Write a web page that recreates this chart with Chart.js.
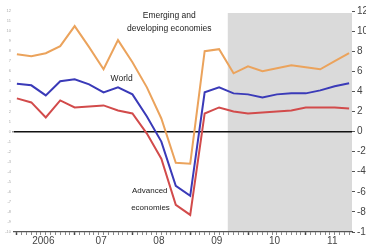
<!DOCTYPE html>
<html>
<head>
<meta charset="utf-8">
<script src="https://cdn.jsdelivr.net/npm/chart.js@4/dist/chart.umd.min.js"></script>
<style>
  html, body { margin: 0; padding: 0; background: #fff; }
  #wrap { width: 366px; height: 248px; }
</style>
</head>
<body>
<div id="wrap"><canvas id="chart"></canvas></div>
<script>
// quarterly, 2006Q1 .. 2011Q4 (x = quarter index)
const quarters = [
  "2006Q1","2006Q2","2006Q3","2006Q4","2007Q1","2007Q2","2007Q3","2007Q4",
  "2008Q1","2008Q2","2008Q3","2008Q4","2009Q1","2009Q2","2009Q3","2009Q4",
  "2010Q1","2010Q2","2010Q3","2010Q4","2011Q1","2011Q2","2011Q3","2011Q4"
];
const emerging = [7.7, 7.5, 7.8, 8.5, 10.5, 8.4, 6.2, 9.1, 6.9, 4.4, 1.3, -3.1, -3.2, 8.0, 8.2, 5.8, 6.5, 6.0, 6.3, 6.6, 6.4, 6.2, 7.0, 7.8];
const world    = [4.75, 4.6, 3.6, 5.0, 5.2, 4.7, 3.9, 4.4, 3.7, 1.5, -1.0, -5.4, -6.4, 3.9, 4.4, 3.8, 3.7, 3.4, 3.7, 3.8, 3.8, 4.1, 4.5, 4.8];
const advanced = [3.3, 2.9, 1.4, 3.1, 2.4, 2.5, 2.6, 2.1, 1.8, -0.2, -2.7, -7.3, -8.3, 1.8, 2.4, 2.0, 1.8, 1.9, 2.0, 2.1, 2.4, 2.4, 2.4, 2.3];
const yearLabels = ["2006", "07", "08", "09", "10", "11"];
const forecastStart = 14.6; // shaded projection period starts here (quarter index)

const FONT = "'Liberation Sans Narrow', 'Liberation Sans', Arial, sans-serif";

function pts(arr) { return arr.map((v, i) => ({ x: i, y: v })); }

// background shading for projections
const shadePlugin = {
  id: "shade",
  beforeDraw(c) {
    const { ctx, chartArea, scales } = c;
    const x0 = scales.x.getPixelForValue(forecastStart);
    ctx.save();
    ctx.fillStyle = "#dadada";
    ctx.fillRect(x0, chartArea.top + 2, chartArea.right - x0, chartArea.bottom - chartArea.top - 2);
    ctx.restore();
  }
};

// series labels
const notes = [
  { text: "Emerging and", x: 10.55, y: 11.5, size: 8.5 },
  { text: "developing economies", x: 10.55, y: 10.2, size: 8.5 },
  { text: "World", x: 7.25, y: 5.25, size: 8.5 },
  { text: "Advanced", x: 9.2, y: -5.9, size: 8 },
  { text: "economies", x: 9.25, y: -7.6, size: 8 }
];
const notePlugin = {
  id: "notes",
  afterDatasetsDraw(c) {
    const { ctx, scales } = c;
    ctx.save();
    ctx.fillStyle = "#222";
    ctx.textAlign = "center";
    ctx.textBaseline = "middle";
    notes.forEach(n => {
      ctx.font = n.size + "px " + FONT;
      ctx.fillText(n.text, scales.x.getPixelForValue(n.x), scales.y.getPixelForValue(n.y));
    });
    ctx.restore();
  }
};

const ctx = document.getElementById("chart");
new Chart(ctx, {
  type: "line",
  data: {
    labels: quarters,
    datasets: [
      { label: "Emerging and developing economies", data: pts(emerging), borderColor: "#eba35c", borderWidth: 2 },
      { label: "World", data: pts(world), borderColor: "#3a3ab8", borderWidth: 2 },
      { label: "Advanced economies", data: pts(advanced), borderColor: "#d24b4b", borderWidth: 2 }
    ]
  },
  options: {
    responsive: true,
    maintainAspectRatio: false,
    animation: false,
    layout: { padding: { top: 11, left: 0, right: 0, bottom: 0 } },
    elements: { point: { radius: 0 }, line: { tension: 0 } },
    plugins: { legend: { display: false }, tooltip: { enabled: false } },
    scales: {
      x: {
        type: "linear",
        min: -0.2,
        max: 23.2,
        afterBuildTicks(scale) {
          const t = [];
          for (let m = 0; m <= 139; m++) t.push({ value: m / 6 });
          scale.ticks = t;
        },
        afterFit(scale) { scale.height = 16; },
        border: { display: true, color: "#555", width: 1.2 },
        grid: {
          drawOnChartArea: false,
          tickLength: 3,
          tickColor: c => (c.index % 2 === 1 ? "rgba(0,0,0,0)" : (c.index % 24 === 0 ? "#444" : "#888")),
          tickWidth: c => (c.index % 24 === 0 ? 1.5 : 1)
        },
        ticks: {
          autoSkip: false,
          maxRotation: 0,
          padding: 0,
          color: "#444",
          font: { family: FONT, size: 10 },
          callback: (v, i) => (i % 24 === 11 ? yearLabels[(i - 11) / 24] : "")
        }
      },
      y: {
        position: "left",
        min: -10,
        max: 12,
        afterFit(scale) { scale.width = 14; },
        border: { display: false },
        grid: {
          color: c => (c.tick && c.tick.value === 0 ? "#111" : "rgba(0,0,0,0)"),
          lineWidth: c => (c.tick && c.tick.value === 0 ? 1.6 : 0),
          tickLength: 2,
          tickColor: "#999"
        },
        ticks: {
          stepSize: 1,
          padding: 1,
          color: "#aaa",
          font: { family: FONT, size: 4 }
        }
      },
      y2: {
        position: "right",
        min: -10,
        max: 12,
        afterFit(scale) { scale.width = 14; },
        border: { display: false },
        grid: { drawOnChartArea: false, tickLength: 3, tickColor: "#555" },
        ticks: {
          stepSize: 1,
          padding: 2,
          color: "#444",
          font: { family: FONT, size: 10 },
          callback: v => (v % 2 === 0 ? String(v) : "")
        }
      }
    }
  },
  plugins: [shadePlugin, notePlugin]
});
</script>
</body>
</html>
